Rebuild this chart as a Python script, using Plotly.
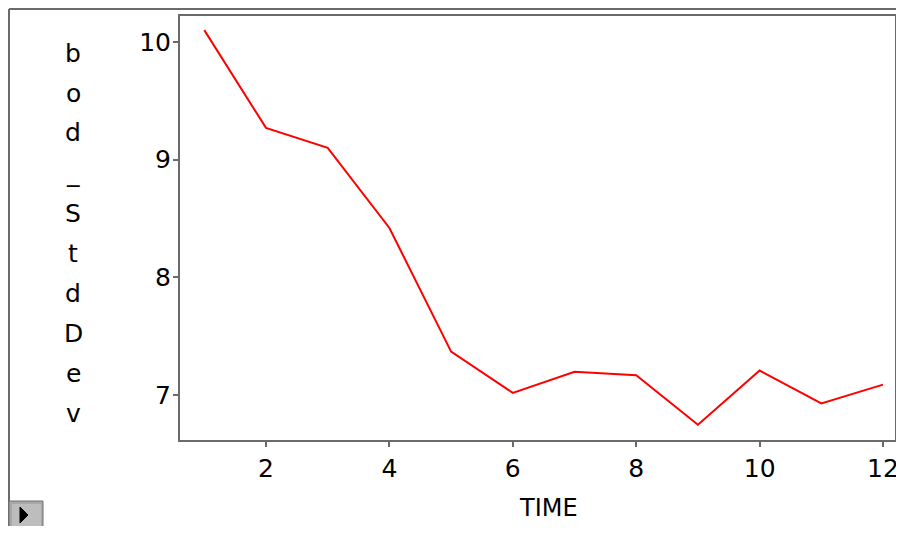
import plotly.graph_objects as go

# values
time = [1, 2, 3, 4, 5, 6, 7, 8, 9, 10, 11, 12]
bod_stddev = [10.10, 9.27, 9.10, 8.42, 7.37, 7.02, 7.20, 7.17, 6.75, 7.21, 6.93, 7.09]
x_ticks = [2, 4, 6, 8, 10, 12]
y_ticks = [7, 8, 9, 10]
x_label = "TIME"
y_label = "bod_StdDev"

# page body adds an 8px margin; the visible area is 888 x 518 starting at (8, 8)
OFF = 8
W, H = 888, 518
ML, MT = 180 - OFF, 16 - OFF
MR = 1
MB = H - (440 - OFF)
PW, PH = W - ML - MR, H - MT - MB


def px(x):
    # screen x -> paper x
    return (x - OFF - ML) / PW


def py(y):
    # screen y -> paper y
    return (H - MB - (y - OFF)) / PH


AXIS = "#6a6a6a"
FONT = "DejaVu Sans, Arial, sans-serif"

fig = go.Figure()
fig.add_trace(go.Scatter(
    x=time, y=bod_stddev, mode="lines",
    line=dict(color="#ff0000", width=2),
    showlegend=False, hoverinfo="skip"
))

axis_common = dict(
    showline=True, linecolor=AXIS, linewidth=2, mirror=True,
    ticks="outside", ticklen=5, tickwidth=2, tickcolor=AXIS,
    showgrid=False, zeroline=False, ticklabeloverflow="allow",
    automargin=False,
    tickfont=dict(family=FONT, size=25, color="#000000"),
)

fig.update_xaxes(range=[0.606, 12.194], tickvals=x_ticks, **axis_common)
fig.update_yaxes(range=[6.62, 10.22], tickvals=y_ticks, ticklabelstandoff=-3, **axis_common)

# x axis title, centred where the reference has it
fig.add_annotation(
    x=px(548), y=py(508), xref="paper", yref="paper",
    text=x_label, showarrow=False,
    font=dict(family=FONT, size=24, color="#000000"),
    xanchor="center", yanchor="middle"
)

# stacked vertical y label
for i, ch in enumerate(y_label):
    fig.add_annotation(
        x=px(73), y=py(53 + i * 40), xref="paper", yref="paper",
        text=ch, showarrow=False,
        font=dict(family=FONT, size=25, color="#000000"),
        xanchor="center", yanchor="middle"
    )

# outer frame (left and top edges)
fig.add_shape(type="line", xref="paper", yref="paper",
              x0=px(9), x1=px(9), y0=py(9), y1=py(560),
              line=dict(color=AXIS, width=2))
fig.add_shape(type="line", xref="paper", yref="paper",
              x0=px(9), x1=px(930), y0=py(9), y1=py(9),
              line=dict(color=AXIS, width=2))

# little disclosure button bottom-left
fig.add_shape(type="rect", xref="paper", yref="paper",
              x0=px(9), x1=px(43), y0=py(501), y1=py(536),
              fillcolor="#a8a8a8", line=dict(color="#707070", width=1))
fig.add_shape(type="rect", xref="paper", yref="paper",
              x0=px(12), x1=px(41), y0=py(504), y1=py(536),
              fillcolor="#bdbdbd", line=dict(width=0))
fig.add_shape(type="path", xref="paper", yref="paper",
              path=f"M {px(20)},{py(507)} L {px(28)},{py(515)} L {px(20)},{py(523)} Z",
              fillcolor="#000000", line=dict(color="#000000", width=1))

fig.update_layout(
    width=W, height=H,
    margin=dict(l=ML, r=MR, t=MT, b=MB, autoexpand=False),
    paper_bgcolor="#ffffff", plot_bgcolor="#ffffff",
    showlegend=False,
)

fig.write_html("out.html")
